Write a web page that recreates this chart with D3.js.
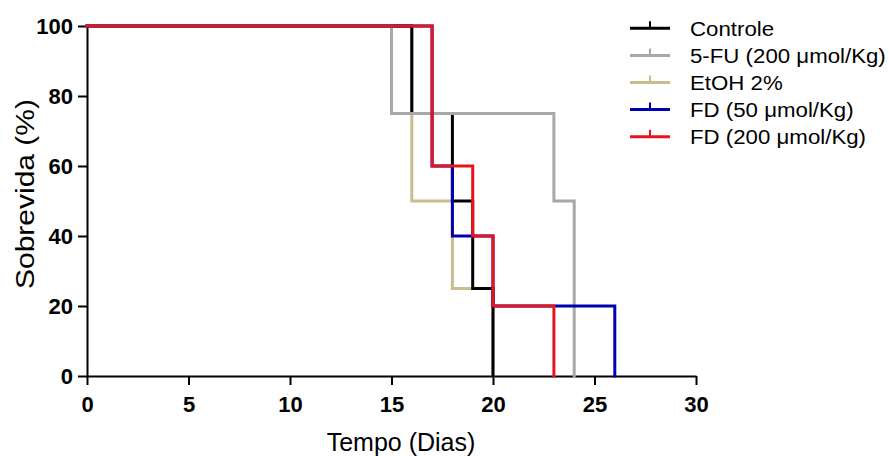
<!DOCTYPE html>
<html>
<head>
<meta charset="utf-8">
<script src="https://cdn.jsdelivr.net/npm/d3@7"></script>
<style>
  html, body { margin: 0; padding: 0; background: #fff; }
  svg { display: block; font-family: "Liberation Sans", Arial, Helvetica, sans-serif; }
</style>
</head>
<body>
<svg id="chart" width="889" height="456"></svg>
<script>
// Kaplan-Meier survival curves: time (days) and survival (%) at each step
const seriesNames = ["Controle", "5-FU (200 μmol/Kg)", "EtOH 2%", "FD (50 μmol/Kg)", "FD (200 μmol/Kg)"];
const seriesColors = ["#000000", "#a8a8a8", "#c9bd8d", "#0000b0", "#e8141c"];

const controleDays = [0, 16, 18, 19, 20];
const controleSurv = [100, 75, 50, 25, 0];

const fuDays = [0, 15, 23, 24];
const fuSurv = [100, 75, 50, 0];

const etohDays = [0, 16, 18, 20];
const etohSurv = [100, 50, 25, 0];

const fd50Days = [0, 17, 18, 20, 26];
const fd50Surv = [100, 60, 40, 20, 0];

const fd200Days = [0, 17, 19, 20, 23];
const fd200Surv = [100, 60, 40, 20, 0];

const xTicks = [0, 5, 10, 15, 20, 25, 30];
const yTicks = [0, 20, 40, 60, 80, 100];

const seriesDays = [controleDays, fuDays, etohDays, fd50Days, fd200Days];
const seriesSurv = [controleSurv, fuSurv, etohSurv, fd50Surv, fd200Surv];

// drawing order (back to front)
const drawOrder = [2, 0, 1, 3, 4];

const svg = d3.select("#chart");

const x = d3.scaleLinear().domain([0, 30]).range([87, 696]);
const y = d3.scaleLinear().domain([0, 100]).range([376, 26]);

// axes
const xAxis = d3.axisBottom(x).tickValues(xTicks).tickSize(9).tickPadding(11).tickSizeOuter(0);
const yAxis = d3.axisLeft(y).tickValues(yTicks).tickSize(9).tickPadding(5).tickSizeOuter(0);

const gx = svg.append("g").attr("transform", `translate(0,${y(0)})`).call(xAxis);
const gy = svg.append("g").attr("transform", `translate(${x(0)},0)`).call(yAxis);

[gx, gy].forEach(g => {
  g.select(".domain").attr("stroke", "#000").attr("stroke-width", 2);
  g.selectAll(".tick line").attr("stroke", "#000").attr("stroke-width", 2);
  g.selectAll(".tick text")
    .attr("fill", "#000")
    .style("font-family", "'Liberation Sans', Arial, sans-serif")
    .style("font-weight", "bold")
    .style("font-size", "22px");
});
gy.selectAll(".tick text").attr("dy", "0.36em");
gx.selectAll(".tick text").attr("dy", "0.74em");

// axis titles
svg.append("text")
  .attr("x", 401).attr("y", 451)
  .attr("text-anchor", "middle")
  .style("font-size", "25px")
  .text("Tempo (Dias)");

svg.append("text")
  .attr("transform", "translate(34,194) rotate(-90) scale(1.2,1)")
  .attr("text-anchor", "middle")
  .style("font-size", "25px")
  .text("Sobrevida (%)");

// survival step lines
const line = d3.line()
  .x(d => x(d[0]))
  .y(d => y(d[1]))
  .curve(d3.curveStepAfter);

drawOrder.forEach(i => {
  const pts = seriesDays[i].map((d, k) => [d, seriesSurv[i][k]]);
  svg.append("path")
    .datum(pts)
    .attr("d", line)
    .attr("fill", "none")
    .attr("stroke", seriesColors[i])
    .attr("stroke-width", 3)
    .attr("stroke-linejoin", "miter")
    .attr("stroke-linecap", "square");
});

// legend
const legend = svg.append("g");
seriesNames.forEach((name, i) => {
  const cy = 28.3 + i * 27.1;
  const g = legend.append("g");
  g.append("line")
    .attr("x1", 630).attr("x2", 670).attr("y1", cy).attr("y2", cy)
    .attr("stroke", seriesColors[i]).attr("stroke-width", 3);
  g.append("line")
    .attr("x1", 650).attr("x2", 650).attr("y1", cy).attr("y2", cy - 7)
    .attr("stroke", seriesColors[i]).attr("stroke-width", 2);
  g.append("text")
    .attr("transform", `translate(690,${cy}) scale(1.06,1)`)
    .attr("dy", "0.36em")
    .style("font-size", "21px")
    .text(name);
});
</script>
</body>
</html>
